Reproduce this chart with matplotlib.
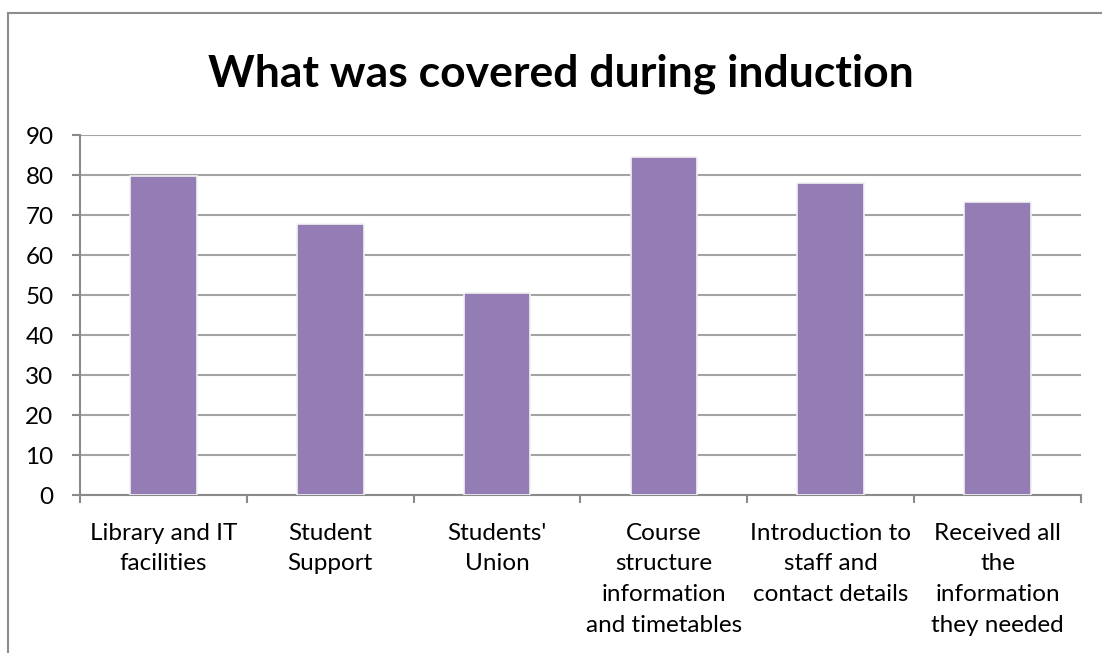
import matplotlib.pyplot as plt
import numpy as np
from matplotlib.lines import Line2D

# survey results
categories = [
    "Library and IT\nfacilities",
    "Student\nSupport",
    "Students'\nUnion",
    "Course\nstructure\ninformation\nand timetables",
    "Introduction to\nstaff and\ncontact details",
    "Received all\nthe\ninformation\nthey needed",
]
values = [79.8, 67.7, 50.4, 84.4, 77.9, 73.2]
y_ticks = list(range(0, 100, 10))

plt.rcParams["font.family"] = ["Lato", "DejaVu Sans"]

fig = plt.figure(figsize=(11.02, 6.53), dpi=100)
ax = fig.add_axes([80 / 1102, 1 - 495 / 653, 1001 / 1102, 360 / 653])

x = np.arange(len(categories))
ax.bar(x, values, width=0.4, color="#937db4", edgecolor="#f2f2f2", linewidth=1.2, zorder=3)

ax.set_xlim(-0.5, len(categories) - 0.5)
ax.set_ylim(0, 90)
ax.set_yticks(y_ticks)
ax.yaxis.grid(True, color="#a3a3a3", linewidth=1.5, zorder=0)

# category labels centred, tick marks between categories
ax.set_xticks(x)
ax.set_xticklabels(categories, fontsize=17.5, linespacing=1.57)
ax.set_xticks(np.arange(-0.5, len(categories)), minor=True)
ax.tick_params(axis="x", which="major", length=0, pad=20)
ax.tick_params(axis="x", which="minor", length=6, width=1.5, color="#8a8a8a", direction="out")
ax.tick_params(axis="y", length=6, width=1.5, color="#8a8a8a", labelsize=17.5, pad=13)

for side in ["top", "right"]:
    ax.spines[side].set_visible(False)
for side in ["left", "bottom"]:
    ax.spines[side].set_color("#8a8a8a")
    ax.spines[side].set_linewidth(1.5)

fig.text(561 / 1102, 1 - 87 / 653, "What was covered during induction",
         fontsize=32, fontweight="bold", ha="center", va="baseline")

# chart area frame
fig.add_artist(Line2D([8 / 1102, 1], [1 - 13 / 653, 1 - 13 / 653], color="#8c8c8c", linewidth=1.5))
fig.add_artist(Line2D([8 / 1102, 8 / 1102], [0, 1 - 13 / 653], color="#8c8c8c", linewidth=1.5))

fig.savefig("out.png", dpi=100)
